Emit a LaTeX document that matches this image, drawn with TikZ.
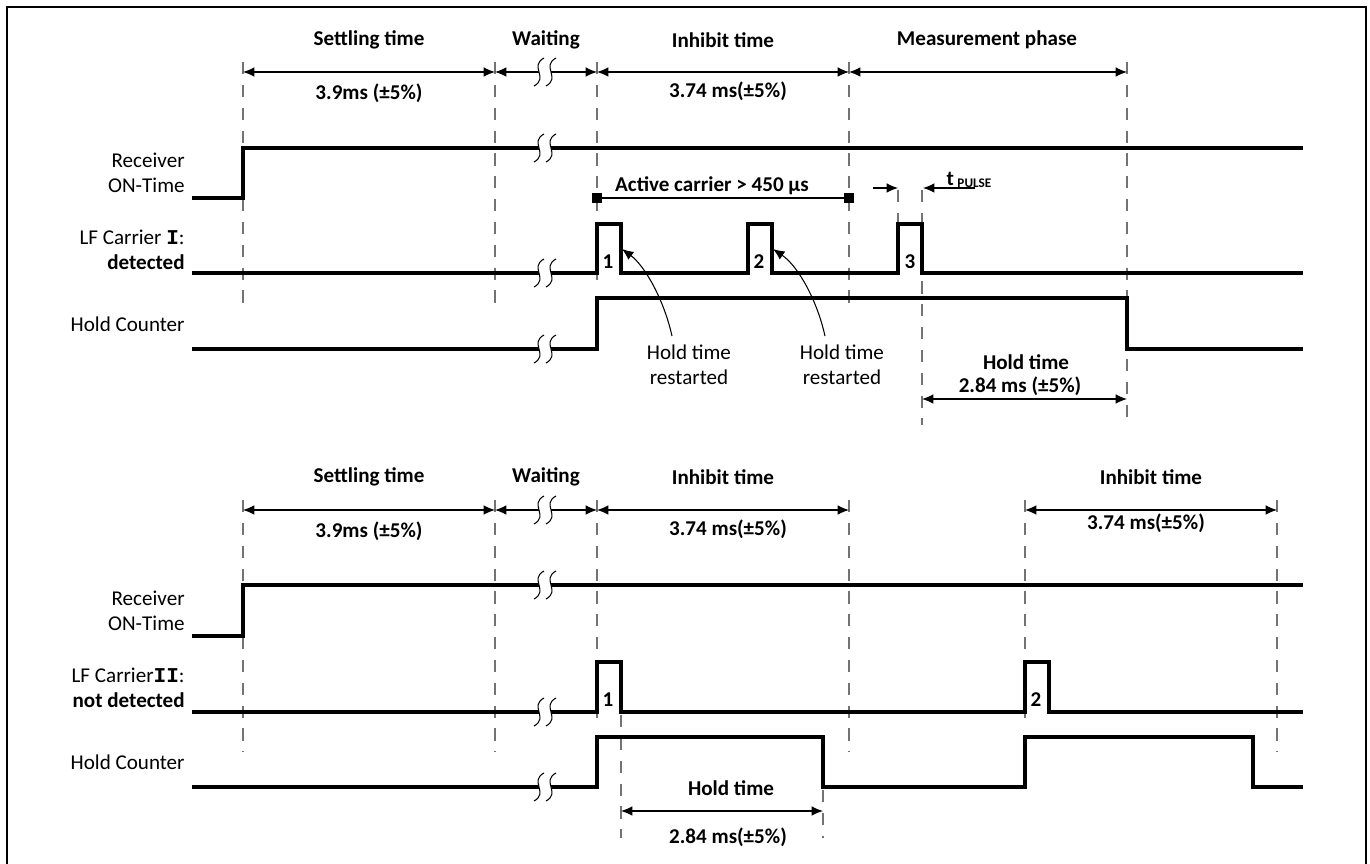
\documentclass[12pt,tikz,border=0pt]{standalone}
\usepackage{fontspec}
\setmainfont{Carlito}
\newfontfamily\monofont{Liberation Mono}
\usetikzlibrary{arrows.meta}

\tikzset{
  sig/.style={line width=2pt, line join=miter},
  dim/.style={line width=0.6pt, {Latex[length=6.5pt,width=5.5pt]}-{Latex[length=6.5pt,width=5.5pt]}},
  halfdim/.style={line width=0.6pt, -{Latex[length=6.5pt,width=5.5pt]}},
  guide/.style={line width=0.6pt, black!55, dash pattern=on 7pt off 6pt},
  phase/.style={font=\bfseries},
  lbl/.style={anchor=east, align=right},
  sq/.style={fill, inner sep=0pt, minimum size=5.5pt},
  brk/.pic={
    \fill[white] (-1,-14) .. controls (-16,-6) and (4,6) .. (-11,14) -- (1,14) .. controls (16,6) and (-4,-6) .. (11,-14) -- cycle;
    \draw[line width=0.6pt] (-1,-14) .. controls (-16,-6) and (4,6) .. (-11,14);
    \draw[line width=0.6pt] (11,-14) .. controls (-4,-6) and (16,6) .. (1,14);
  }
}

\begin{document}
\begin{tikzpicture}[x=0.02cm,y=-0.02cm]
\useasboundingbox (0,0) rectangle (1370,864);
\clip (0,0) rectangle (1370,864);
\draw[line width=1.1pt] (7,7) rectangle (1366,900);

% guide lines
\foreach \x/\ya/\yb in {243/62/313,495/62/313,597/62/287,849/62/313,1127/62/425,898/190/224,922/190/425,
  243/500/752,495/500/752,597/500/725,849/500/752,1025/500/725,1277/500/752,621/715/838,823/790/838}
  \draw[guide] (\x,\ya) -- (\x,\yb);

% ---------- upper diagram (carrier I) ----------
\foreach \n/\x in {a/243,b/495,c/597,d/849,e/1127}
  \coordinate (up\n) at (\x,72);
\draw[dim] (upa) -- (upb);
\draw[dim] (upb) -- (upc);
\draw[dim] (upc) -- (upd);
\draw[dim] (upd) -- (upe);
\node[phase] (setl1) at (369,40) {Settling time};
\node[phase] (wait1) at (546,40) {Waiting};
\node[phase] (inh1) at (723,40) {Inhibit time};
\node[phase] (meas1) at (987,40) {Measurement phase};
\node[phase] (setv1) at (369,93) {3.9ms (±5\%)};
\node[phase] (inhv1) at (728,91) {3.74 ms(±5\%)};

\node[lbl] (rx1) at (192,173) {Receiver\\ON-Time};
\node[lbl] (lf1) at (192,250) {LF Carrier {\monofont\bfseries I}:\\\textbf{detected}};
\node[lbl] (hc1) at (192,324) {Hold Counter};

\draw[sig] (192,198) -- (243,198) -- (243,148) -- (1303,148);
\draw[sig] (192,273) -- (597,273) -- (597,224) -- (621,224) -- (621,273) -- (748,273) -- (748,224) -- (772,224)
  -- (772,273) -- (898,273) -- (898,224) -- (922,224) -- (922,273) -- (1303,273);
\draw[sig] (192,349) -- (597,349) -- (597,298) -- (1127,298) -- (1127,349) -- (1303,349);
\node[phase] (n1a) at (608,262) {1};
\node[phase] (n2a) at (759,262) {2};
\node[phase] (n3a) at (910,262) {3};

\node[sq] (ac1) at (597,198) {};
\node[sq] (ac2) at (849,198) {};
\draw[line width=0.6pt] (ac1) -- (ac2);
\node[phase] (act) at (712,186) {Active carrier > 450 µs};

\draw[halfdim] (873,188) -- (898,188);
\draw[halfdim] (975,188) -- (923,188);
\node (tp) at (969,180) {\textbf{t}\,\raisebox{-0.2ex}{\fontsize{7.5}{8}\selectfont\bfseries PULSE}};

\node[align=center] (rst1) at (689,365) {Hold time\\restarted};
\node[align=center] (rst2) at (842,365) {Hold time\\restarted};
\draw[halfdim] (672,336) .. controls (664,300) and (645,266) .. (622,249);
\draw[halfdim] (825,336) .. controls (817,300) and (798,266) .. (773,249);

\draw[dim] (922,399) -- (1127,399);
\node[phase] (hold1) at (1026,362) {Hold time};
\node[phase] (holdv1) at (1020,386) {2.84 ms (±5\%)};

\foreach \y in {72,148,273,349}
  \pic at (545,\y) {brk};

% ---------- lower diagram (carrier II) ----------
\foreach \n/\x in {a/243,b/495,c/597,d/849,f/1025,g/1277}
  \coordinate (lo\n) at (\x,510);
\draw[dim] (loa) -- (lob);
\draw[dim] (lob) -- (loc);
\draw[dim] (loc) -- (lod);
\draw[dim] (lof) -- (log);
\node[phase] (setl2) at (369,477) {Settling time};
\node[phase] (wait2) at (546,477) {Waiting};
\node[phase] (inh2) at (723,477) {Inhibit time};
\node[phase] (inh3) at (1151,477) {Inhibit time};
\node[phase] (setv2) at (369,531) {3.9ms (±5\%)};
\node[phase] (inhv2) at (728,529) {3.74 ms(±5\%)};
\node[phase] (inhv3) at (1146,523) {3.74 ms(±5\%)};

\node[lbl] (rx2) at (192,611) {Receiver\\ON-Time};
\node[lbl] (lf2) at (192,688) {LF Carrier{\monofont\bfseries II}:\\\textbf{not detected}};
\node[lbl] (hc2) at (192,762) {Hold Counter};

\draw[sig] (192,636) -- (243,636) -- (243,585) -- (1303,585);
\draw[sig] (192,712) -- (597,712) -- (597,662) -- (621,662) -- (621,712) -- (1025,712) -- (1025,662) -- (1049,662)
  -- (1049,712) -- (1303,712);
\draw[sig] (192,787) -- (597,787) -- (597,737) -- (823,737) -- (823,787) -- (1025,787) -- (1025,737) -- (1253,737)
  -- (1253,787) -- (1303,787);
\node[phase] (n1b) at (608,700) {1};
\node[phase] (n2b) at (1036,700) {2};

\draw[dim] (621,811) -- (823,811);
\node[phase] (hold2) at (731,788) {Hold time};
\node[phase] (holdv2) at (728,837) {2.84 ms(±5\%)};

\foreach \y in {510,585,712,787}
  \pic at (545,\y) {brk};
\end{tikzpicture}
\end{document}
